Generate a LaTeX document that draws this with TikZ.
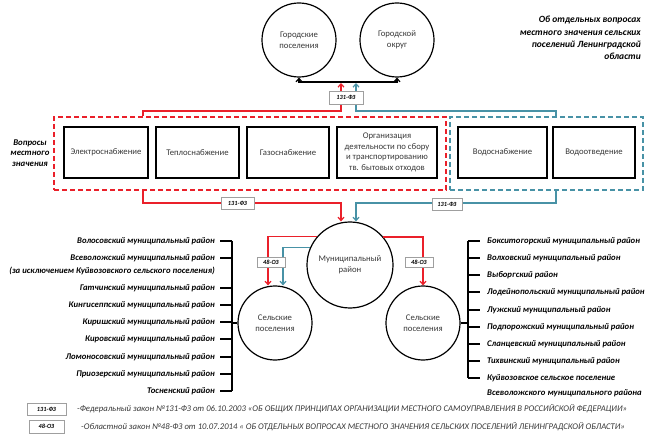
\documentclass[tikz,border=0pt]{standalone}
\usepackage{fontspec}
\setmainfont{Carlito}
\usetikzlibrary{arrows.meta}
\definecolor{lred}{RGB}{234,32,42}
\definecolor{lblue}{RGB}{72,146,166}
\definecolor{txtgray}{RGB}{55,55,55}
\begin{document}
\begin{tikzpicture}[x=1pt,y=-1pt,
  circ/.style={circle,draw,line width=1.2pt,inner sep=0pt,align=center,text=txtgray,font=\fontsize{8.7}{10.5}\selectfont},
  ibox/.style={draw,line width=1.2pt,minimum height=51pt,inner sep=1pt,align=center,text=txtgray,font=\fontsize{8.7}{10.6}\selectfont},
  law/.style={draw=gray!75,fill=white,line width=0.7pt,inner sep=0pt,font=\bfseries\itshape\fontsize{6.3}{7}\selectfont},
  dist/.style={inner sep=0pt,font=\bfseries\itshape\fontsize{8.7}{10}\selectfont},
  legtext/.style={inner sep=0pt,text=txtgray,font=\itshape\fontsize{8.7}{10}\selectfont},
  rl/.style={draw=lred,line width=1.2pt},
  bl/.style={draw=lblue,line width=1.2pt},
  bk/.style={draw=black,line width=1.2pt},
  tip/.style={-{Straight Barb[length=3.3pt,width=6pt]}},
  rdashbox/.style={draw=lred,line width=1.4pt,dash pattern=on 5pt off 3pt,inner sep=0pt},
  bdashbox/.style={draw=lblue,line width=1.4pt,dash pattern=on 5pt off 3pt,inner sep=0pt}
]
\useasboundingbox (0,0) rectangle (655,443);

% top circles
\node[circ,minimum size=74pt] (gp) at (299,40) {Городские\\поселения};
\node[circ,minimum size=74pt] (go) at (397,40) {Городской\\округ};
\coordinate (jl) at (299,82);
\coordinate (jr) at (397,82);
\draw[bk,{Straight Barb[length=3.3pt,width=6pt]}-{Straight Barb[length=3.3pt,width=6pt]}]
  (gp.south) -- (gp.south |- jl) -- (go.south |- jr) -- (go.south);

% title
\node[dist,anchor=north east,align=right,font=\bfseries\itshape\fontsize{9.5}{12.3}\selectfont] (title) at (641,16)
  {Об отдельных вопросах\\местного значения сельских\\поселений Ленинградской\\области};

% dashed groups
\node[rdashbox,minimum width=392pt,minimum height=73pt] (rdash) at (250,153.5) {};
\node[bdashbox,minimum width=193pt,minimum height=73pt] (bdash) at (546.5,153.5) {};

% inner boxes
\node[ibox,minimum width=84pt] (e1) at (106,152.5) {Электроснабжение};
\node[ibox,minimum width=83pt] (e2) at (197.5,152.5) {Теплоснабжение};
\node[ibox,minimum width=82pt] (e3) at (288,152.5) {Газоснабжение};
\node[ibox,minimum width=100pt] (e4) at (387,152.5) {Организация\\деятельности по сбору\\и транспортированию\\тв. бытовых отходов};
\node[ibox,minimum width=89pt] (w1) at (502.5,152.5) {Водоснабжение};
\node[ibox,minimum width=82pt] (w2) at (594,152.5) {Водоотведение};

\node[dist,align=center,font=\bfseries\itshape\fontsize{8.8}{10.5}\selectfont] (vq) at (30,153) {Вопросы\\местного\\значения};

% helper coordinates
\coordinate (xr) at (143,0);
\coordinate (xb) at (556,0);
\coordinate (ytop) at (0,111);
\coordinate (ybot) at (0,203);
\coordinate (tr) at (341,83);
\coordinate (tb) at (356,83);
\coordinate (xred) at (341,0);
\coordinate (xblue) at (356,0);

% municipal and rural circles
\node[circ,minimum size=86pt] (mun) at (350,265) {Муниципальный\\район};
\node[circ,minimum size=74pt] (lr) at (275,323) {Сельские\\поселения};
\node[circ,minimum size=74pt] (rr) at (423,323) {Сельские\\поселения};

% upper connectors
\draw[rl,tip] (rdash.north -| xr) -- (xr |- ytop) -- (xred |- ytop) -- (tr);
\draw[bl,tip] (bdash.north -| xb) -- (xb |- ytop) -- (xblue |- ytop) -- (tb);
% lower connectors
\draw[rl,tip] (rdash.south -| xr) -- (xr |- ybot) -- (xred |- ybot) -- (mun.north -| xred);
\draw[bl,tip] (bdash.south -| xb) -- (xb |- ybot) -- (xblue |- ybot) -- (mun.north -| xblue);
% municipal to rural
\draw[rl,tip] (mun.139.4) -| ([xshift=-7pt]lr.north);
\draw[bl,tip] (mun.156.7) -| ([xshift=8pt]lr.north);
\draw[rl,tip] (mun.40.6) -| (rr.north);

% law labels
\node[law,minimum width=34pt,minimum height=13pt] (lawt) at (346,97.5) {131-ФЗ};
\node[law,minimum width=33pt,minimum height=12pt] (lawl) at (237.5,203) {131-ФЗ};
\node[law,minimum width=30pt,minimum height=12pt] (lawr) at (447,204) {131-ФЗ};
\node[law,minimum width=28pt,minimum height=10pt] (oz1) at (271,262) {48-ОЗ};
\node[law,minimum width=28pt,minimum height=10pt] (oz2) at (419,262) {48-ОЗ};

% left list
\foreach \y/\t [count=\i] in {241/{Волосовский муниципальный район},258/{Всеволожский муниципальный район},288/{Гатчинский муниципальный район},305/{Кингисеппский муниципальный район},322/{Киришский муниципальный район},339/{Кировский муниципальный район},357/{Ломоносовский муниципальный район},374/{Приозерский муниципальный район},391/{Тосненский район}}{
  \node[dist,anchor=east] (L\i) at (215,\y) {\t};
  \draw[bk,line width=1.1pt] (220,\y) -- (232,\y);
}
\node[dist,anchor=east] (Lx) at (215,271) {(за исключением Куйвозовского сельского поселения)};
\draw[bk,line width=1.1pt] (232,241) -- (232,391);
\coordinate (lbr) at (232,323);
\draw[bk,line width=1.1pt] (lbr) -- (lr.west);

% right list
\foreach \y/\t [count=\i] in {241/{Бокситогорский муниципальный район},258/{Волховский муниципальный район},275/{Выборгский район},292/{Лодейнопольский муниципальный район},310/{Лужский муниципальный район},327/{Подпорожский муниципальный район},344/{Сланцевский муниципальный район},361/{Тихвинский муниципальный район},378/{Куйвозовское сельское поселение}}{
  \node[dist,anchor=west] (R\i) at (487,\y) {\t};
  \draw[bk,line width=1.1pt] (468,\y) -- (480,\y);
}
\node[dist,anchor=west] (Rx) at (487,393) {Всеволожского муниципального района};
\draw[bk,line width=1.1pt] (468,241) -- (468,378);
\coordinate (rbr) at (468,323);
\draw[bk,line width=1.1pt] (rr.east) -- (rbr);

% legend
\node[law,minimum width=39pt,minimum height=12pt] (k1) at (46.5,409) {131-ФЗ};
\node[law,minimum width=35pt,minimum height=13pt] (k2) at (46.5,426.5) {48-ОЗ};
\node[legtext,anchor=west] (t1) at (77,409) {-Федеральный закон №131-ФЗ от 06.10.2003 «ОБ ОБЩИХ ПРИНЦИПАХ ОРГАНИЗАЦИИ МЕСТНОГО САМОУПРАВЛЕНИЯ В РОССИЙСКОЙ ФЕДЕРАЦИИ»};
\node[legtext,anchor=west] (t2) at (81,427) {-Областной закон №48-ФЗ от 10.07.2014 « ОБ ОТДЕЛЬНЫХ ВОПРОСАХ МЕСТНОГО ЗНАЧЕНИЯ СЕЛЬСКИХ ПОСЕЛЕНИЙ ЛЕНИНГРАДСКОЙ ОБЛАСТИ»};
\end{tikzpicture}
\end{document}
